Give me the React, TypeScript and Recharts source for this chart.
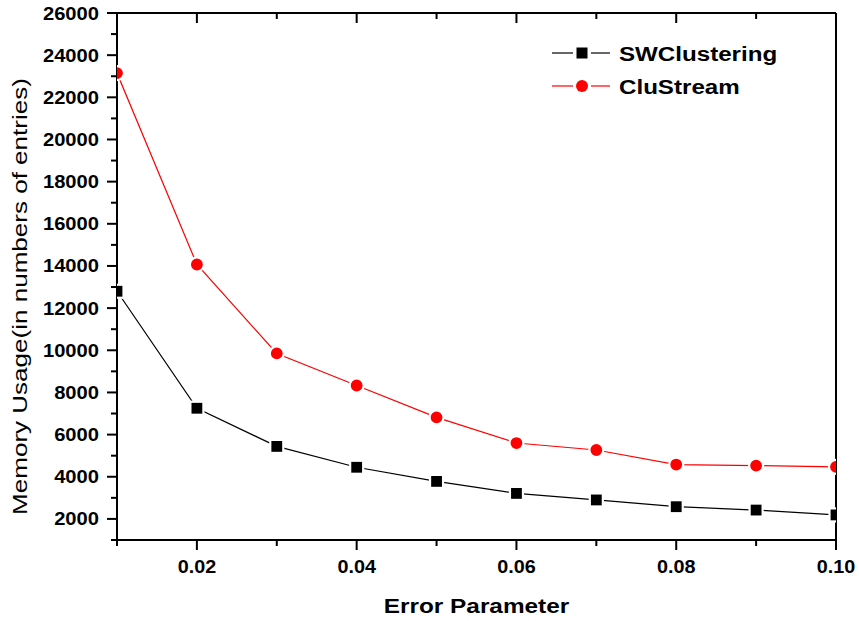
import React from 'react';
import { LineChart, Line, XAxis, YAxis, Legend } from 'recharts';

// values
const errorParams = [0.01, 0.02, 0.03, 0.04, 0.05, 0.06, 0.07, 0.08, 0.09, 0.1];
const swClustering = [12800, 7250, 5440, 4450, 3780, 3210, 2900, 2580, 2420, 2190];
const cluStream = [23150, 14070, 9850, 8330, 6820, 5600, 5270, 4580, 4530, 4470];

const xTicks = [0.01, 0.02, 0.03, 0.04, 0.05, 0.06, 0.07, 0.08, 0.09, 0.1];
const yTicks = [
  1000, 2000, 3000, 4000, 5000, 6000, 7000, 8000, 9000, 10000, 11000, 12000, 13000,
  14000, 15000, 16000, 17000, 18000, 19000, 20000, 21000, 22000, 23000, 24000, 25000, 26000,
];

const data = errorParams.map((e, i) => ({
  e,
  sw: swClustering[i],
  clu: cluStream[i],
}));

const FONT = '"Liberation Sans", Arial, Helvetica, sans-serif';

const isMajorX = (v: number) => Math.round(v * 100) % 2 === 0;
const isMajorY = (v: number) => Math.round(v / 1000) % 2 === 0;

const BottomTick = (props: any) => {
  const { x, y, payload } = props;
  const major = isMajorX(payload.value);
  return (
    <g>
      <line x1={x} y1={y} x2={x} y2={y + (major ? 10 : 6)} stroke="#000" strokeWidth={2} />
      {major && (
        <text
          transform={`translate(${x},${y + 33}) scale(1.1,1)`}
          textAnchor="middle"
          fontFamily={FONT}
          fontWeight="bold"
          fontSize={18}
          fill="#000"
        >
          {payload.value.toFixed(2)}
        </text>
      )}
    </g>
  );
};

const TopTick = (props: any) => {
  const { x, y, payload } = props;
  const major = isMajorX(payload.value);
  return <line x1={x} y1={y} x2={x} y2={y + (major ? 10 : 6)} stroke="#000" strokeWidth={2} />;
};

const LeftTick = (props: any) => {
  const { x, y, payload } = props;
  const major = isMajorY(payload.value);
  return (
    <g>
      <line x1={x} y1={y} x2={x - (major ? 10 : 6)} y2={y} stroke="#000" strokeWidth={2} />
      {major && (
        <text
          transform={`translate(${x - 18},${y + 6.5}) scale(1.12,1)`}
          textAnchor="end"
          fontFamily={FONT}
          fontWeight="bold"
          fontSize={18}
          fill="#000"
        >
          {payload.value}
        </text>
      )}
    </g>
  );
};

const RightTick = (props: any) => {
  const { x, y, payload } = props;
  const major = isMajorY(payload.value);
  return <line x1={x} y1={y} x2={x - (major ? 10 : 6)} y2={y} stroke="#000" strokeWidth={2} />;
};

// black squares with a thin white halo, so the line stops short of them
const SquareDot = (props: any) => {
  const { cx, cy, index } = props;
  if (cx == null || cy == null) return null;
  return (
    <rect
      key={`sq-${index}`}
      x={cx - 6.5}
      y={cy - 6.5}
      width={13}
      height={13}
      fill="#000"
      stroke="#fff"
      strokeWidth={2.2}
    />
  );
};

const XTitle = (props: any) => {
  const { viewBox } = props;
  const cx = viewBox.x + viewBox.width / 2;
  return (
    <text
      transform={`translate(${cx},${viewBox.y + 73}) scale(1.16,1)`}
      textAnchor="middle"
      fontFamily={FONT}
      fontWeight="bold"
      fontSize={21}
      fill="#000"
    >
      Error Parameter
    </text>
  );
};

const YTitle = (props: any) => {
  const { viewBox } = props;
  const cy = viewBox.y + viewBox.height / 2;
  return (
    <text
      transform={`translate(27,${cy + 20}) rotate(-90) scale(1.24,1)`}
      textAnchor="middle"
      fontFamily={FONT}
      fontSize={21}
      fill="#000"
    >
      Memory Usage(in numbers of entries)
    </text>
  );
};

const legendItems = [
  { name: 'SWClustering', color: '#000', shape: 'square' },
  { name: 'CluStream', color: '#ff0000', shape: 'circle' },
];

const LegendBox = () => (
  <svg width={250} height={70}>
    {legendItems.map((item, i) => {
      const cy = 18 + i * 33;
      return (
        <g key={item.name}>
          <line x1={7} y1={cy} x2={28} y2={cy} stroke={item.color} strokeWidth={1.2} />
          <line x1={46} y1={cy} x2={65} y2={cy} stroke={item.color} strokeWidth={1.2} />
          {item.shape === 'square' ? (
            <rect x={31.5} y={cy - 5.5} width={11} height={11} fill={item.color} />
          ) : (
            <circle cx={37} cy={cy} r={6} fill={item.color} />
          )}
          <text
            transform={`translate(74,${cy + 7.5}) scale(1.15,1)`}
            fontFamily={FONT}
            fontWeight="bold"
            fontSize={21}
            fill="#000"
          >
            {item.name}
          </text>
        </g>
      );
    })}
  </svg>
);

export default function App() {
  return (
    <div style={{ position: 'absolute', left: 0, top: 0, background: '#fff' }}>
      <LineChart
        width={859}
        height={621}
        data={data}
        margin={{ top: 12, right: 22, bottom: 80, left: 116 }}
      >
        <XAxis
          xAxisId="b"
          dataKey="e"
          type="number"
          domain={[0.01, 0.1]}
          ticks={xTicks}
          allowDataOverflow
          height={1}
          tickSize={0}
          tickMargin={0}
          tickLine={false}
          interval={0}
          axisLine={{ stroke: '#000', strokeWidth: 2 }}
          tick={<BottomTick />}
          label={<XTitle />}
        />
        <XAxis
          xAxisId="t"
          orientation="top"
          dataKey="e"
          type="number"
          domain={[0.01, 0.1]}
          ticks={xTicks}
          height={1}
          tickSize={0}
          tickMargin={0}
          tickLine={false}
          interval={0}
          axisLine={{ stroke: '#000', strokeWidth: 2 }}
          tick={<TopTick />}
        />
        <YAxis
          yAxisId="l"
          type="number"
          domain={[1000, 26000]}
          ticks={yTicks}
          width={1}
          tickSize={0}
          tickMargin={0}
          tickLine={false}
          interval={0}
          axisLine={{ stroke: '#000', strokeWidth: 2 }}
          tick={<LeftTick />}
          label={<YTitle />}
        />
        <YAxis
          yAxisId="r"
          orientation="right"
          type="number"
          domain={[1000, 26000]}
          ticks={yTicks}
          width={1}
          tickSize={0}
          tickMargin={0}
          tickLine={false}
          interval={0}
          axisLine={{ stroke: '#000', strokeWidth: 2 }}
          tick={<RightTick />}
        />
        <Legend
          layout="vertical"
          align="center"
          verticalAlign="middle"
          content={() => <LegendBox />}
          wrapperStyle={{ left: 545, top: 35, width: 250 }}
        />
        <Line
          xAxisId="b"
          yAxisId="l"
          dataKey="sw"
          name="SWClustering"
          stroke="#000"
          strokeWidth={1.2}
          dot={<SquareDot />}
          activeDot={false}
          isAnimationActive={false}
        />
        <Line
          xAxisId="b"
          yAxisId="l"
          dataKey="clu"
          name="CluStream"
          stroke="#ff0000"
          strokeWidth={1.2}
          dot={{ r: 7, fill: '#ff0000', stroke: '#fff', strokeWidth: 2.2 }}
          activeDot={false}
          isAnimationActive={false}
        />
      </LineChart>
    </div>
  );
}
